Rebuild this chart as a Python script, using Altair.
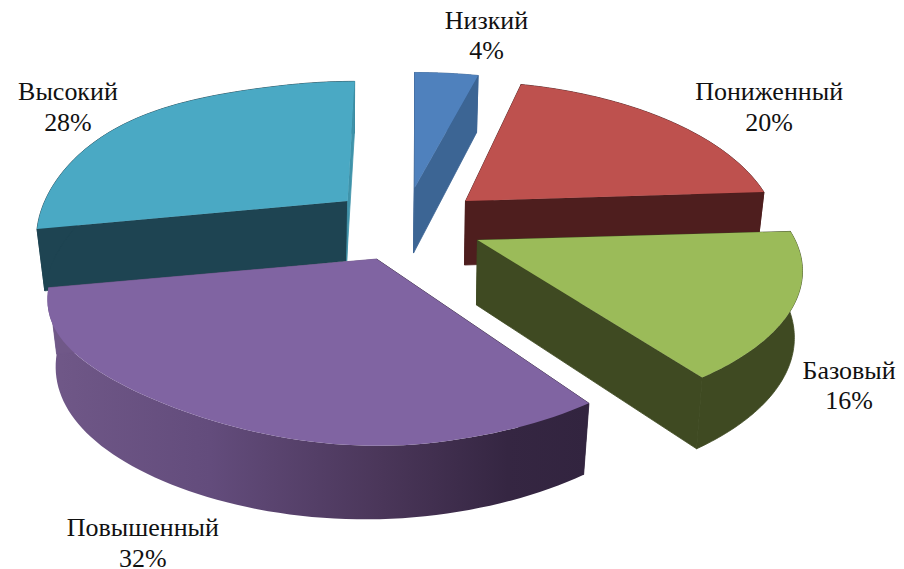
import math
import altair as alt
import pandas as pd

# --- chart values ---
names = ["Низкий", "Пониженный", "Базовый", "Повышенный", "Высокий"]
values = [4, 20, 16, 32, 28]

# --- colours ---
top_colors = ["#4F81BD", "#BE514E", "#9BBB59", "#8064A2", "#4AA9C4"]
wall_colors = ["#3C6594", "#4E1E1E", "#3F4A22", None, "#1E4452"]
start_wall_colors = ["#3C6594", "#4E1E1E", "#3F4A22", "#32243F", "#1E4452"]
end_wall_colors = ["#3C6594", "#4E1E1E", "#3F4A22", "#705888", "#3F93AA"]

# --- projection of the tilted, exploded pie (reference pixel units) ---
apex_x = [415, 466, 478, 377, 348]
apex_y = [187, 200, 239, 258, 200]
radius_x = [310, 304, 318, 318, 302]
radius_y = [141, 146, 140, 147, 146]
skew = [0, -8.5, 2, 14.6, 8.5]
persp = 0.218
depth = [65, 64, 65, 65, 60]
depth_tilt = 8
shrink = 0.975
# small lift of the rim, per slice: height, from-angle, to-angle
lift = [(0, 0, 1), (0, 0, 1), (0, 0, 1), (12, 170, 260), (7, 250, 345)]
lift_bottom_share = 0.3

# --- labels (anchor in reference pixels) ---
label_x = [487, 770, 850, 143, 68]
name_base = [28, 99, 378, 535, 99]
value_base = [58, 130, 408, 566, 130]

W, H = 888, 553
x_scale = alt.Scale(domain=[8, 8 + W], nice=False, zero=False)
y_scale = alt.Scale(domain=[8 + H, 8], nice=False, zero=False)


def rim_lift(k, deg):
    amp, lo, hi = lift[k]
    if amp == 0 or deg <= lo or deg >= hi:
        return 0.0
    return amp * math.sin((deg - lo) / (hi - lo) * math.pi) ** 2


def flat(k, deg):
    t = math.radians(deg)
    s, c = math.sin(t), math.cos(t)
    den = 1 + persp * c
    return (apex_x[k] + (radius_x[k] * s + skew[k] * c) / den,
            apex_y[k] - radius_y[k] * c / den)


def top(k, deg):
    x, y = flat(k, deg)
    return (x, y - rim_lift(k, deg))


def bottom(k, deg):
    x, y = flat(k, deg)
    c = math.cos(math.radians(deg))
    return (apex_x[k] + (x - apex_x[k]) * shrink,
            y + depth[k] - depth_tilt * c - lift_bottom_share * rim_lift(k, deg))


def apex_bottom(k):
    return (apex_x[k] - 1, apex_y[k] + depth[k])


def poly(points, fill, seal=False):
    df = pd.DataFrame(points, columns=["x", "y"])
    df["i"] = range(len(df))
    if seal:
        mark = alt.Chart(df).mark_line(fill=fill, stroke=fill, strokeWidth=0.8,
                                       interpolate="linear-closed", clip=True)
    else:
        mark = alt.Chart(df).mark_line(fill=fill, strokeWidth=0,
                                       interpolate="linear-closed", clip=True)
    return mark.encode(
        x=alt.X("x:Q", scale=x_scale, axis=None),
        y=alt.Y("y:Q", scale=y_scale, axis=None),
        order="i:Q",
    )


purple_gradient = alt.LinearGradient(
    gradient="linear", x1=0, x2=1, y1=0, y2=0,
    stops=[
        alt.GradientStop(offset=0, color="#705888"),
        alt.GradientStop(offset=0.3, color="#634C7C"),
        alt.GradientStop(offset=0.62, color="#4A3659"),
        alt.GradientStop(offset=0.85, color="#352642"),
        alt.GradientStop(offset=1, color="#32243F"),
    ],
)

total = sum(values)
starts, acc = [], 0
for v in values:
    starts.append(acc / total * 360)
    acc += v

layers = []
STEPS = 70
for k in [0, 1, 4, 2, 3]:  # back to front
    a0 = starts[k]
    a1 = a0 + values[k] / total * 360
    angles = [a0 + (a1 - a0) * j / STEPS for j in range(STEPS + 1)]
    ap = (apex_x[k], apex_y[k])
    apb = apex_bottom(k)
    # first radial wall
    layers.append(poly([ap, top(k, a0), bottom(k, a0), apb], start_wall_colors[k], seal=True))
    # outer wall
    outer = [top(k, a) for a in angles] + [bottom(k, a) for a in reversed(angles)]
    if wall_colors[k]:
        layers.append(poly(outer, wall_colors[k], seal=True))
    else:
        layers.append(poly(outer, purple_gradient))
    # second radial wall
    layers.append(poly([ap, top(k, a1), bottom(k, a1), apb], end_wall_colors[k], seal=True))
    # top face
    layers.append(poly([ap] + [top(k, a) for a in angles], top_colors[k]))

rows = []
for k in range(len(names)):
    rows.append({"x": label_x[k], "y": name_base[k], "t": names[k]})
    rows.append({"x": label_x[k], "y": value_base[k], "t": f"{values[k]}%"})
labels = (
    alt.Chart(pd.DataFrame(rows))
    .mark_text(font="Liberation Serif", fontSize=26, color="#111111", align="center", baseline="alphabetic")
    .encode(
        x=alt.X("x:Q", scale=x_scale, axis=None),
        y=alt.Y("y:Q", scale=y_scale, axis=None),
        text="t:N",
    )
)

chart = (
    alt.layer(*layers, labels)
    .properties(width=W, height=H, padding=0, background="white")
    .configure_view(stroke=None)
)
chart.save("out.html", embed_options={"renderer": "svg", "actions": False})
